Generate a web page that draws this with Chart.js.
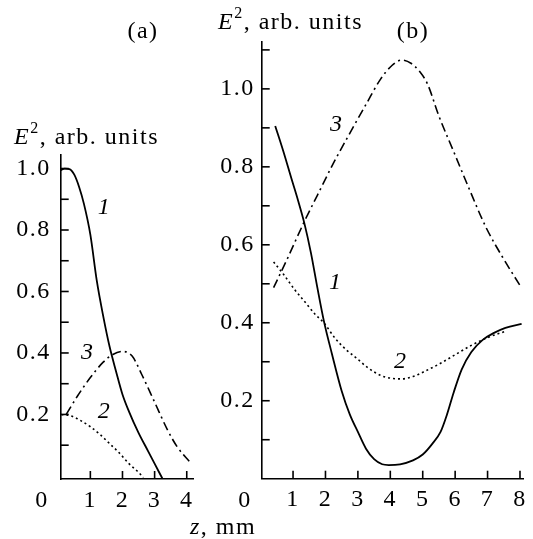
<!DOCTYPE html>
<html>
<head>
<meta charset="utf-8">
<script src="https://cdn.jsdelivr.net/npm/chart.js@4.4.0/dist/chart.umd.min.js"></script>
<style>
  html, body { margin: 0; padding: 0; background: #fff; }
  #wrap { position: relative; width: 533px; height: 539px; }
  .box { position: absolute; top: 0; height: 539px; }
  #boxA { left: 0; width: 200px; }
  #boxB { left: 180px; width: 353px; }
</style>
</head>
<body>
<div id="wrap">
  <div class="box" id="boxA"><canvas id="chartA"></canvas></div>
  <div class="box" id="boxB"><canvas id="chartB"></canvas></div>
</div>
<script>
// ── panel (a) ──────────────────────────────
var zA1 = [0.08, 0.2, 0.35, 0.5, 0.65, 0.8, 1.0, 1.2, 1.4, 1.6, 1.8, 2.0, 2.2, 2.5, 2.8, 3.0, 3.25];
var eA1 = [0.995, 1.0, 0.998, 0.98, 0.94, 0.885, 0.785, 0.635, 0.52, 0.42, 0.34, 0.265, 0.21, 0.14, 0.08, 0.04, -0.01];
var zA2 = [0.1, 0.4, 0.7, 1.0, 1.3, 1.6, 1.9, 2.2, 2.5, 2.65];
var eA2 = [0.2, 0.195, 0.18, 0.16, 0.135, 0.105, 0.075, 0.04, 0.012, -0.005];
var zA3 = [0.25, 0.6, 1.0, 1.4, 1.7, 2.0, 2.3, 2.6, 3.0, 3.4, 3.7, 4.1];
var eA3 = [0.2, 0.26, 0.32, 0.37, 0.395, 0.405, 0.39, 0.33, 0.24, 0.15, 0.095, 0.045];
var xTicksA = [1, 2, 3, 4];
var xLabelsA = ['1', '2', '3', '4'];
var yTicksA = [0.1, 0.2, 0.3, 0.4, 0.5, 0.6, 0.7, 0.8, 0.9, 1.0];
var yLabelsA = ['', '0.2', '', '0.4', '', '0.6', '', '0.8', '', '1.0'];

// ── panel (b) ──────────────────────────────
var zB1 = [0.45, 0.7, 0.95, 1.15, 1.35, 1.55, 1.75, 1.95, 2.2, 2.5, 2.75, 3.0, 3.25, 3.5, 3.75, 3.95, 4.3, 4.7, 5.0, 5.3, 5.55, 5.75, 5.95, 6.2, 6.5, 6.85, 7.2, 7.55, 8.05];
var eB1 = [0.905, 0.84, 0.77, 0.715, 0.655, 0.58, 0.49, 0.405, 0.32, 0.225, 0.165, 0.12, 0.077, 0.05, 0.037, 0.035, 0.037, 0.047, 0.062, 0.09, 0.12, 0.165, 0.22, 0.28, 0.325, 0.356, 0.374, 0.387, 0.397];
var zB2 = [0.4, 0.7, 1.05, 1.4, 1.7, 1.95, 2.3, 2.65, 2.95, 3.3, 3.7, 4.0, 4.35, 4.7, 5.1, 5.55, 6.0, 6.5, 7.0, 7.55];
var eB2 = [0.556, 0.525, 0.485, 0.45, 0.42, 0.4, 0.36, 0.33, 0.31, 0.285, 0.265, 0.258, 0.256, 0.262, 0.277, 0.296, 0.318, 0.342, 0.362, 0.378];
var zB3 = [0.4, 0.8, 1.35, 1.75, 2.25, 2.75, 3.25, 3.7, 4.05, 4.35, 4.65, 4.9, 5.15, 5.5, 5.95, 6.4, 6.95, 7.45, 7.99];
var eB3 = [0.49, 0.56, 0.66, 0.727, 0.81, 0.886, 0.96, 1.025, 1.06, 1.074, 1.065, 1.045, 1.012, 0.93, 0.84, 0.75, 0.645, 0.57, 0.497];
var xTicksB = [1, 2, 3, 4, 5, 6, 7, 8];
var xLabelsB = ['1', '2', '3', '4', '5', '6', '7', '8'];
var yTicksB = [0.1, 0.2, 0.3, 0.4, 0.5, 0.6, 0.7, 0.8, 0.9, 1.0, 1.1];
var yLabelsB = ['', '0.2', '', '0.4', '', '0.6', '', '0.8', '', '1.0', ''];

var FONT = '"Liberation Serif", "Times New Roman", serif';
var FS = 24;
var SOLID = [], DOTTED = [2, 3], DASHDOT = [9, 4, 2, 4];

function pairs(xs, ys) {
  return xs.map(function(x, i) { return { x: x, y: ys[i] }; });
}

function curve(xs, ys, dash) {
  return {
    data: pairs(xs, ys),
    borderColor: '#000',
    borderWidth: dash.length ? 1.6 : 1.8,
    borderDash: dash,
    pointRadius: 0,
    fill: false,
    cubicInterpolationMode: 'monotone'
  };
}

function drawTitle(ctx, x, y) {
  ctx.textAlign = 'left';
  ctx.textBaseline = 'middle';
  ctx.font = 'italic ' + FS + 'px ' + FONT;
  ctx.fillText('E', x, y);
  x += ctx.measureText('E').width;
  ctx.font = '16px ' + FONT;
  ctx.fillText('2', x, y - 9);
  x += ctx.measureText('2').width;
  ctx.font = FS + 'px ' + FONT;
  ctx.fillText(', arb. units', x, y);
}

// the printed serif face is a little wider than Liberation Serif
var spacing = {
  id: 'spacing',
  beforeDraw: function(chart) { chart.ctx.letterSpacing = '1.5px'; }
};

// inward ticks, curve numbers and loose text
var decor = {
  id: 'decor',
  afterDraw: function(chart, args, o) {
    var ctx = chart.ctx, xs = chart.scales.x, ys = chart.scales.y;
    ctx.save();
    ctx.strokeStyle = '#000';
    ctx.lineWidth = 1.6;
    o.xTicks.forEach(function(v) {
      var px = xs.getPixelForValue(v);
      ctx.beginPath(); ctx.moveTo(px, ys.bottom); ctx.lineTo(px, ys.bottom - 8); ctx.stroke();
    });
    o.yTicks.forEach(function(v) {
      var py = ys.getPixelForValue(v);
      ctx.beginPath(); ctx.moveTo(xs.left, py); ctx.lineTo(xs.left + 8, py); ctx.stroke();
    });

    ctx.fillStyle = '#000';
    ctx.textAlign = 'center';
    ctx.textBaseline = 'middle';
    ctx.font = 'italic ' + FS + 'px ' + FONT;
    o.marks.forEach(function(m) {
      ctx.fillText(m.t, xs.getPixelForValue(m.x), ys.getPixelForValue(m.y));
    });

    ctx.font = FS + 'px ' + FONT;
    ctx.fillText(o.panel, o.panelAt[0], o.panelAt[1]);
    ctx.fillText('0', o.zeroAt[0], o.zeroAt[1]);
    drawTitle(ctx, o.titleAt[0], o.titleAt[1]);

    if (o.zAt) {
      ctx.textAlign = 'left';
      ctx.font = 'italic ' + FS + 'px ' + FONT;
      ctx.fillText('z', o.zAt[0], o.zAt[1]);
      var w = ctx.measureText('z').width;
      ctx.font = FS + 'px ' + FONT;
      ctx.fillText(', mm', o.zAt[0] + w, o.zAt[1]);
    }
    ctx.restore();
  }
};

function makeChart(id, p) {
  return new Chart(document.getElementById(id), {
    type: 'line',
    data: { datasets: p.datasets },
    plugins: [spacing, decor],
    options: {
      responsive: true,
      maintainAspectRatio: false,
      animation: false,
      events: [],
      layout: { padding: { top: p.padTop, right: p.padRight, left: 0, bottom: 0 } },
      plugins: {
        legend: { display: false },
        tooltip: { enabled: false },
        decor: p.decor
      },
      scales: {
        x: {
          type: 'linear',
          min: p.xMin, max: p.xMax,
          afterBuildTicks: function(s) { s.ticks = p.xTicks.map(function(v) { return { value: v }; }); },
          afterFit: function(s) { s.height = p.xH; },
          grid: { drawOnChartArea: false, drawTicks: false },
          border: { color: '#000', width: 1.6 },
          ticks: {
            color: '#000', font: { family: FONT, size: FS }, padding: 7,
            maxRotation: 0, autoSkip: false,
            callback: function(v, i) { return p.xLabels[i]; }
          }
        },
        y: {
          type: 'linear',
          min: p.yMin, max: p.yMax,
          afterBuildTicks: function(s) { s.ticks = p.yTicks.map(function(v) { return { value: v }; }); },
          afterFit: function(s) { s.width = p.yW; },
          grid: { drawOnChartArea: false, drawTicks: false },
          border: { color: '#000', width: 1.6 },
          ticks: {
            color: '#000', font: { family: FONT, size: FS }, padding: p.yPad,
            autoSkip: false,
            callback: function(v, i) { return p.yLabels[i]; }
          }
        }
      }
    }
  });
}

makeChart('chartA', {
  datasets: [curve(zA1, eA1, SOLID), curve(zA2, eA2, DOTTED), curve(zA3, eA3, DASHDOT)],
  xMin: 0.077, xMax: 4.21, yMin: -0.01, yMax: 1.044,
  xTicks: xTicksA, xLabels: xLabelsA, yTicks: yTicksA, yLabels: yLabelsA,
  padTop: 155, padRight: 5, xH: 60, yW: 60.7, yPad: 10,
  decor: {
    xTicks: xTicksA, yTicks: yTicksA,
    marks: [{ t: '1', x: 1.44, y: 0.871 }, { t: '3', x: 0.92, y: 0.40 }, { t: '2', x: 1.44, y: 0.208 }],
    panel: '(a)', panelAt: [143, 32], zeroAt: [42, 501], titleAt: [14, 138]
  }
});

makeChart('chartB', {
  datasets: [curve(zB1, eB1, SOLID), curve(zB2, eB2, DOTTED), curve(zB3, eB3, DASHDOT)],
  xMin: 0.033, xMax: 8.1, yMin: 0, yMax: 1.121,
  xTicks: xTicksB, xLabels: xLabelsB, yTicks: yTicksB, yLabels: yLabelsB,
  padTop: 41.7, padRight: 1.3, xH: 60.3, yW: 81.7, yPad: 7,
  decor: {
    xTicks: xTicksB, yTicks: yTicksB,
    marks: [{ t: '3', x: 2.35, y: 0.907 }, { t: '1', x: 2.32, y: 0.504 }, { t: '2', x: 4.32, y: 0.299 }],
    panel: '(b)', panelAt: [233, 32], zeroAt: [65, 501], titleAt: [38, 23], zAt: [10, 528]
  }
});
</script>
</body>
</html>
